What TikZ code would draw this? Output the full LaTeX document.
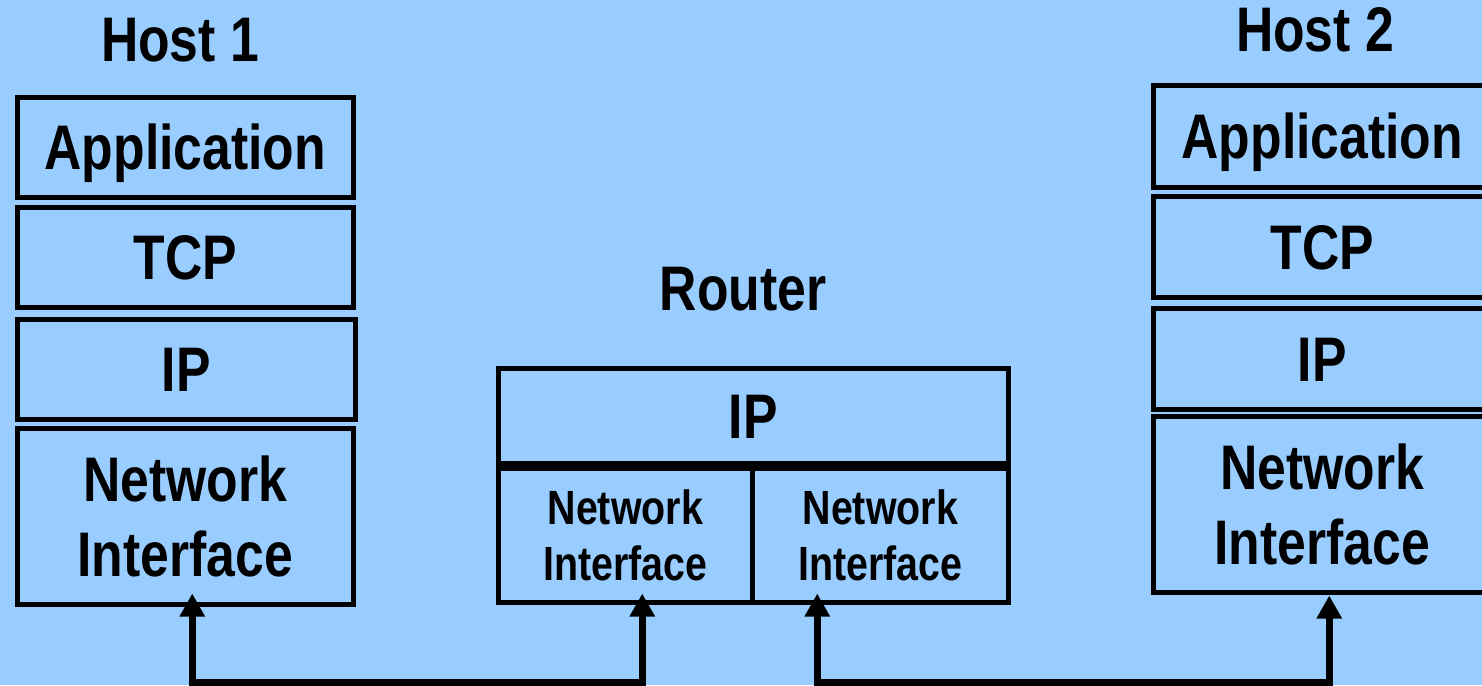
\documentclass[tikz,border=0pt]{standalone}
\usepackage{fontspec}
\newfontfamily\labfont{Liberation Sans}[FakeStretch=0.82]
\usetikzlibrary{arrows.meta}
\definecolor{bgblue}{HTML}{99CCFF}
\tikzset{
  layer/.style={draw=black, line width=4.5pt, rectangle, inner sep=0pt,
    anchor=north west, font=\labfont\bfseries\fontsize{63}{75}\selectfont,
    align=center},
  onerow/.style={text height=45pt, text depth=0pt},
  smallrow/.style={font=\labfont\bfseries\fontsize{48}{56}\selectfont},
  title/.style={anchor=base, inner sep=0pt,
    font=\labfont\bfseries\fontsize{63}{75}\selectfont},
  link/.style={line width=7.5pt, {Triangle[width=24pt,length=23pt]}-{Triangle[width=24pt,length=23pt]}}
}
\begin{document}
\begin{tikzpicture}[x=1pt,y=-1pt]
\useasboundingbox (0,0) rectangle (1482,685);
\fill[bgblue] (0,0) rectangle (1482,685);

% Host 1 protocol stack
\node[title] (h1t) at (180,62) {Host 1};
\node[layer,onerow,minimum width=336pt,minimum height=100pt] (h1app) at (15,95) {Application};
\node[layer,onerow,minimum width=336pt,minimum height=100pt] (h1tcp) at (15,205) {TCP};
\node[layer,onerow,minimum width=338pt,minimum height=100pt] (h1ip) at (15,317) {IP};
\node[layer,minimum width=336pt,minimum height=176pt] (h1ni) at (15,426) {Network\\Interface};

% Router
\node[title] (rt) at (743,310) {Router};
\node[layer,onerow,minimum width=510pt,minimum height=95pt] (rip) at (496,366) {IP};
\node[layer,smallrow,minimum width=254pt,minimum height=134pt] (rni1) at (496,466) {Network\\Interface};
\node[layer,smallrow,minimum width=256pt,minimum height=134pt] (rni2) at (750,466) {Network\\Interface};

% Host 2 protocol stack
\node[title] (h2t) at (1315,52) {Host 2};
\node[layer,onerow,minimum width=338pt,minimum height=102pt] (h2app) at (1151,83) {Application};
\node[layer,onerow,minimum width=338pt,minimum height=101pt] (h2tcp) at (1151,194) {TCP};
\node[layer,onerow,minimum width=338pt,minimum height=101pt] (h2ip) at (1151,306) {IP};
\node[layer,minimum width=338pt,minimum height=176pt] (h2ni) at (1151,414) {Network\\Interface};

% Physical links: arrow tips just inside the interface boxes, bus along the bottom
\coordinate (bus) at (0,683);
\coordinate (t1) at ([xshift=7pt,yshift=13pt]h1ni.south);
\coordinate (t2) at ([xshift=17pt,yshift=11pt]rni1.south);
\coordinate (t3) at ([xshift=-63pt,yshift=11pt]rni2.south);
\coordinate (t4) at ([xshift=7pt,yshift=-1pt]h2ni.south);
\draw[link] (t1) -- (t1 |- bus) -| (t2);
\draw[link] (t3) -- (t3 |- bus) -| (t4);
\end{tikzpicture}
\end{document}
